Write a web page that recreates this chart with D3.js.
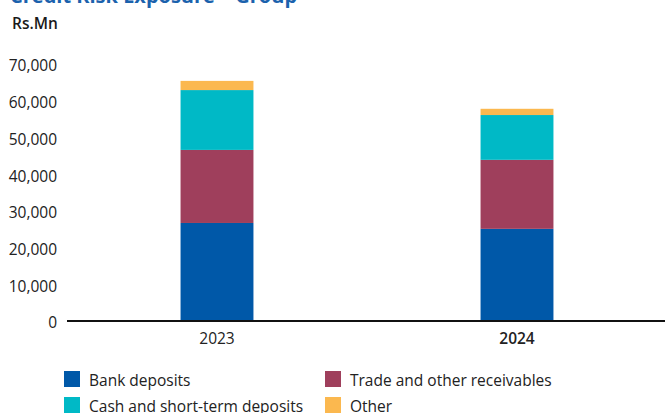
<!DOCTYPE html>
<html lang="en">
<head>
	<meta charset="UTF-8">
	<title>Credit Risk Exposure - Group</title>
	<script src="https://cdn.jsdelivr.net/npm/d3@7"></script>
	<style>
		body{
			margin:0;
			background:#fff;
		}
		svg{
			display:block;
			font-family:"Open Sans", sans-serif;
		}
	</style>
</head>
<body>
	<svg id="chart" width="665" height="413"></svg>
	<script>
		// values, Rs.Mn
		var years = ["2023", "2024"];
		var seriesNames = ["Bank deposits", "Trade and other receivables", "Cash and short-term deposits", "Other"];
		var bankDeposits = [26700, 25100];
		var tradeReceivables = [19900, 18800];
		var cashDeposits = [16300, 12200];
		var other = [2500, 1700];
		var yTicks = [0, 10000, 20000, 30000, 40000, 50000, 60000, 70000];
		var colors = ["#0058a8", "#9f3f5c", "#00b9c6", "#fbb84f"];

		var svg = d3.select("#chart");
		var rows = years.map(function(y, i){
			return {year:y, "Bank deposits":bankDeposits[i], "Trade and other receivables":tradeReceivables[i],
				"Cash and short-term deposits":cashDeposits[i], "Other":other[i]};
		});
		var stacked = d3.stack().keys(seriesNames)(rows);

		var x = d3.scaleBand().domain(years).range([67, 667]).paddingInner(0.757).paddingOuter(0.3785);
		var y = d3.scaleLinear().domain([0, 70000]).range([321, 64]);

		// title, partly off the top edge
		svg.append("text")
			.attr("x", 10).attr("y", 3)
			.attr("fill", "#1b62ad")
			.attr("font-weight", "bold")
			.attr("font-size", 20)
			.text("Credit Risk Exposure \u2013 Group");
		svg.append("text")
			.attr("x", 12).attr("y", 29)
			.attr("fill", "#1a1a1a")
			.attr("font-weight", 600)
			.attr("font-size", 15.5)
			.text("Rs.Mn");

		// bars
		svg.append("g").selectAll("g")
			.data(stacked).enter().append("g")
			.attr("fill", function(d, i){ return colors[i]; })
			.selectAll("rect")
			.data(function(d){ return d; }).enter().append("rect")
			.attr("x", function(d){ return x(d.data.year); })
			.attr("width", x.bandwidth())
			.attr("y", function(d){ return y(d[1]); })
			.attr("height", function(d){ return y(d[0]) - y(d[1]); });

		// y labels
		var yAxis = svg.append("g")
			.attr("transform", "translate(67,2)")
			.call(d3.axisLeft(y).tickValues(yTicks).tickSize(0).tickPadding(10)
				.tickFormat(function(d){ return d3.format(",")(d); }));
		yAxis.select(".domain").remove();
		yAxis.selectAll("text")
			.attr("font-family", "'Open Sans', sans-serif")
			.attr("font-size", 15.5)
			.attr("fill", "#222");

		// x axis line
		var xAxis = svg.append("g")
			.attr("transform", "translate(0,321)")
			.call(d3.axisBottom(x).tickSize(0).tickPadding(12));
		xAxis.select(".domain")
			.attr("d", "M67,0H665")
			.attr("stroke", "#111")
			.attr("stroke-width", 2);
		xAxis.selectAll("text")
			.attr("font-family", "'Open Sans', sans-serif")
			.attr("font-size", 15.5)
			.attr("fill", "#222")
			.attr("font-weight", function(d){ return d == "2024" ? 600 : 400; });

		// legend
		var legend = svg.append("g").selectAll("g")
			.data(seriesNames).enter().append("g")
			.attr("transform", function(d, i){
				return "translate(" + (i % 2 ? 325 : 64) + "," + (371 + Math.floor(i / 2) * 26) + ")";
			});
		legend.append("rect")
			.attr("width", 16).attr("height", 16)
			.attr("fill", function(d){ return colors[seriesNames.indexOf(d)]; });
		legend.append("text")
			.attr("x", 25).attr("y", 14.5)
			.attr("font-size", 15.5)
			.attr("fill", "#222")
			.text(function(d){ return d; });
	</script>
</body>
</html>
